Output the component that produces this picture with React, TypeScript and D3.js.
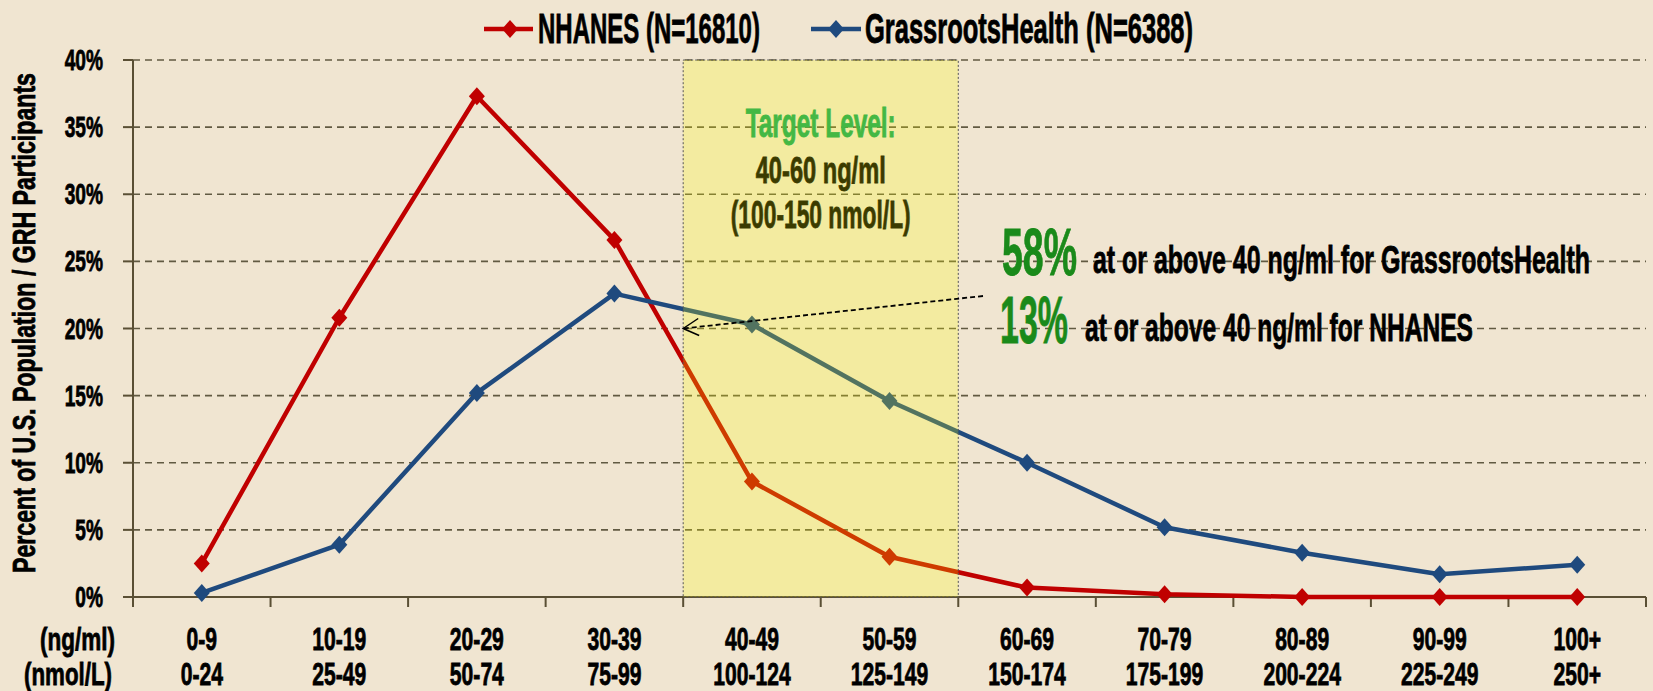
import * as d3 from "d3";
import { useLayoutEffect, useRef, useState } from "react";

const W = 1653;
const H = 691;

const rangesNg = ["0-9", "10-19", "20-29", "30-39", "40-49", "50-59", "60-69", "70-79", "80-89", "90-99", "100+"];
const rangesNmol = ["0-24", "25-49", "50-74", "75-99", "100-124", "125-149", "150-174", "175-199", "200-224", "225-249", "250+"];
const nhanes = [2.5, 20.8, 37.3, 26.6, 8.6, 3.0, 0.7, 0.2, 0, 0, 0];
const grh = [0.3, 3.9, 15.2, 22.6, 20.3, 14.6, 10.0, 5.2, 3.3, 1.7, 2.4];
const yTicks = [0, 5, 10, 15, 20, 25, 30, 35, 40];
const targetRanges = ["40-49", "50-59"];

const FONT = "'Liberation Sans', Arial, sans-serif";
const BG = "#F0E5D1";
const RED = "#C00000";
const BLUE = "#1F4A7E";
const GRID = "#615A42";
const AXIS = "#5A4F34";

const margin = { top: 60, left: 133, right: 7, bottom: 94 };

function Diamond({ x, y, color }: { x: number; y: number; color: string }) {
  return <path d={`M${x},${y - 9}L${x + 8},${y}L${x},${y + 9}L${x - 8},${y}Z`} fill={color} />;
}

// text squeezed horizontally to a measured width (the original uses a condensed face)
function FitText({
  x,
  y,
  width,
  size,
  anchor = "start",
  fill = "#000",
  rotate = 0,
  children,
}: {
  x: number;
  y: number;
  width: number;
  size: number;
  anchor?: string;
  fill?: string;
  rotate?: number;
  children: string;
}) {
  const ref = useRef<SVGTextElement>(null);
  const [sx, setSx] = useState(0.62);
  useLayoutEffect(() => {
    const w = ref.current ? ref.current.getBBox().width : 0;
    if (w > 0) setSx(width / w);
  }, [width, size, children]);
  return (
    <text
      ref={ref}
      transform={`translate(${x},${y}) rotate(${rotate}) scale(${sx},1)`}
      fontSize={size}
      textAnchor={anchor}
      fill={fill}
      stroke={fill}
      strokeWidth={0.8}
    >
      {children}
    </text>
  );
}

function Label({ x, y, size, anchor, children }: { x: number; y: number; size: number; anchor: string; children: string }) {
  return (
    <text transform={`translate(${x},${y}) scale(0.66,1)`} fontSize={size} textAnchor={anchor} fill="#000" stroke="#000" strokeWidth={0.8}>
      {children}
    </text>
  );
}

export default function App() {
  const x = d3.scaleBand().domain(rangesNg).range([margin.left, W - margin.right]);
  const y = d3.scaleLinear().domain([0, 40]).range([H - margin.bottom, margin.top]);
  const cx = (d: string) => (x(d) as number) + x.bandwidth() / 2;

  const line = d3
    .line<number>()
    .x((_, i) => cx(rangesNg[i]))
    .y((d) => y(d));

  const series = [
    { name: "NHANES (N=16810)", values: nhanes, color: RED },
    { name: "GrassrootsHealth (N=6388)", values: grh, color: BLUE },
  ];

  const boxX0 = x(targetRanges[0]) as number;
  const boxX1 = (x(targetRanges[1]) as number) + x.bandwidth();
  const boxMid = (boxX0 + boxX1) / 2;
  const bounds = rangesNg.map((d) => x(d) as number).concat([W - margin.right]);

  // arrow into the 20% line at the left edge of the target box
  const tip = { x: boxX0, y: y(20) };
  const tail = { x: 983, y: 296 };

  return (
    <svg
      width={W}
      height={H}
      style={{ position: "absolute", left: 0, top: 0, display: "block" }}
      fontFamily={FONT}
      fontWeight="bold"
    >
      <rect width={W} height={H} fill={BG} />

      {/* gridlines */}
      {yTicks.slice(1).map((t) => (
        <line key={t} x1={margin.left} x2={W - margin.right} y1={y(t)} y2={y(t)} stroke={GRID} strokeWidth={1.6} strokeDasharray="7,5" />
      ))}

      {/* axes */}
      <line x1={margin.left} x2={margin.left} y1={y(40)} y2={y(0)} stroke={AXIS} strokeWidth={2} />
      <line x1={margin.left} x2={W - margin.right} y1={y(0)} y2={y(0)} stroke={AXIS} strokeWidth={2} />
      {yTicks.map((t) => (
        <line key={t} x1={margin.left - 10} x2={margin.left} y1={y(t)} y2={y(t)} stroke={AXIS} strokeWidth={2} />
      ))}
      {bounds.map((b, i) => (
        <line key={i} x1={b} x2={b} y1={y(0)} y2={y(0) + 10} stroke={AXIS} strokeWidth={2} />
      ))}

      {/* y tick labels */}
      {yTicks.map((t) => (
        <Label key={t} x={103} y={y(t) + 10} size={29} anchor="end">{`${t}%`}</Label>
      ))}

      {/* x labels */}
      <FitText x={115} y={650} size={32} width={75} anchor="end">(ng/ml)</FitText>
      <FitText x={112} y={685} size={32} width={88} anchor="end">(nmol/L)</FitText>
      {rangesNg.map((d, i) => (
        <g key={d}>
          <Label x={cx(d)} y={650} size={32} anchor="middle">{d}</Label>
          <Label x={cx(d)} y={685} size={32} anchor="middle">{rangesNmol[i]}</Label>
        </g>
      ))}

      {/* y title */}
      <FitText x={35} y={323} size={32} width={500} anchor="middle" rotate={-90}>
        Percent of U.S. Population / GRH Participants
      </FitText>

      {/* series */}
      {series.map((s) => (
        <g key={s.name}>
          <path d={line(s.values) as string} fill="none" stroke={s.color} strokeWidth={4.5} strokeLinejoin="round" />
          {s.values.map((v, i) => (
            <Diamond key={i} x={cx(rangesNg[i])} y={y(v)} color={s.color} />
          ))}
        </g>
      ))}

      {/* target text under the tint */}
      <FitText x={boxMid} y={183} size={36} width={130} anchor="middle">40-60 ng/ml</FitText>
      <FitText x={boxMid} y={228} size={39} width={180} anchor="middle">(100-150 nmol/L)</FitText>

      {/* target box */}
      <rect
        x={boxX0}
        y={y(40)}
        width={boxX1 - boxX0}
        height={y(0) - y(40)}
        fill="#FFFF00"
        fillOpacity={0.23}
        stroke="#555"
        strokeWidth={1}
        strokeDasharray="2,2"
      />
      <FitText x={boxMid} y={137} size={40} width={150} anchor="middle" fill="#44B844">Target Level:</FitText>

      {/* annotation */}
      <line x1={tail.x} y1={tail.y} x2={tip.x} y2={tip.y} stroke="#000" strokeWidth={1.8} strokeDasharray="5,3" />
      <path d={`M${tip.x + 15},${tip.y - 10}L${tip.x},${tip.y}L${tip.x + 16},${tip.y + 7}`} fill="none" stroke="#000" strokeWidth={1.5} />

      <FitText x={1002} y={275} size={67} width={75} fill="#1A8A1A">58%</FitText>
      <FitText x={1093} y={273} size={39} width={497}>at or above 40 ng/ml for GrassrootsHealth</FitText>
      <FitText x={1000} y={343} size={67} width={68} fill="#1A8A1A">13%</FitText>
      <FitText x={1085} y={341} size={39} width={388}>at or above 40 ng/ml for NHANES</FitText>

      {/* legend */}
      <line x1={484} x2={533} y1={29} y2={29} stroke={RED} strokeWidth={4.5} />
      <Diamond x={510} y={29} color={RED} />
      <FitText x={538} y={43} size={42} width={222}>NHANES (N=16810)</FitText>
      <line x1={811} x2={861} y1={29} y2={29} stroke={BLUE} strokeWidth={4.5} />
      <Diamond x={836} y={29} color={BLUE} />
      <FitText x={865} y={43} size={42} width={328}>GrassrootsHealth (N=6388)</FitText>
    </svg>
  );
}
